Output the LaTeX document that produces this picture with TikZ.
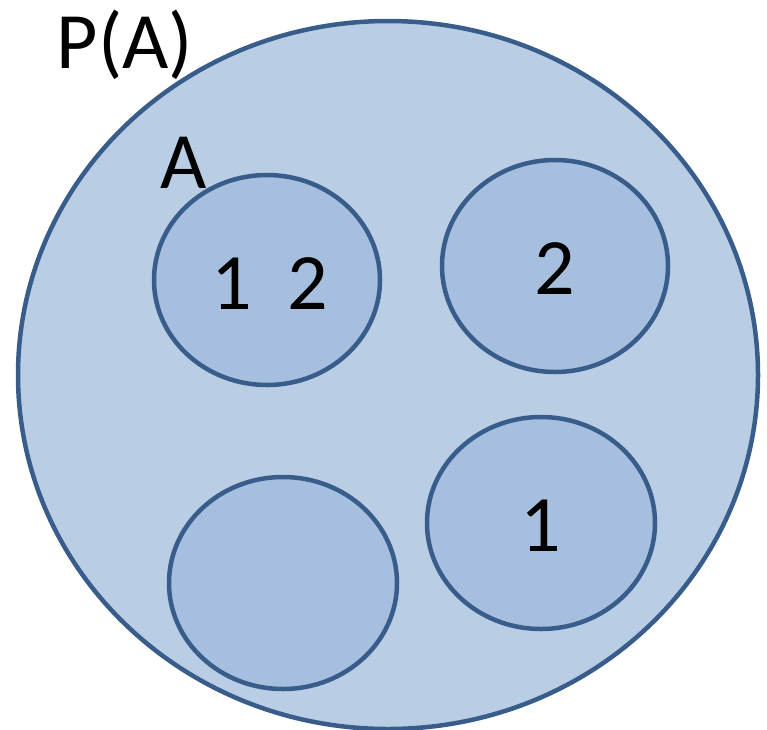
\documentclass[tikz,border=0pt]{standalone}
\usepackage{fontspec}
\setmainfont{Carlito}
\definecolor{outerfill}{HTML}{B9CDE5}
\definecolor{innerfill}{HTML}{A7BFDE}
\definecolor{edge}{HTML}{385D8A}
\begin{document}
\begin{tikzpicture}[x=1pt,y=-1pt,
  setblob/.style={draw=edge,line width=4.5pt,fill=innerfill},
  lbl/.style={font=\fontsize{80}{80}\selectfont,inner sep=0pt,text=black}]
\useasboundingbox (0,0) rectangle (767,729);
\filldraw[draw=edge,line width=4.5pt,fill=outerfill] (388,375) ellipse [x radius=370,y radius=354];
\filldraw[setblob] (267,280) ellipse [x radius=113,y radius=105];
\filldraw[setblob] (555,266) ellipse [x radius=113,y radius=106];
\filldraw[setblob] (541,523) ellipse [x radius=114,y radius=106];
\filldraw[setblob] (283,583) ellipse [x radius=114,y radius=106];
\node[lbl] (pa) at (125,45) {P(A)};
\node[lbl] (a) at (184,163) {A};
\node[lbl] (s12) at (270,284) {1\hspace{0.45em}2};
\node[lbl] (s2) at (555,269) {2};
\node[lbl] (s1) at (541,526) {1};
\end{tikzpicture}
\end{document}
